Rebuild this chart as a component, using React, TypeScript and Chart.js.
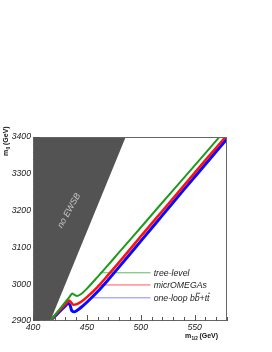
import React, { useEffect, useRef } from 'react';
import { Chart, registerables } from 'chart.js';

Chart.register(...registerables);

// axis ranges and ticks
const xMin = 400;
const xMax = 580;
const yMin = 2900;
const yMax = 3400;
const xTickValues = [400, 450, 500, 550];
const yTickValues = [2900, 3000, 3100, 3200, 3300, 3400];
const xMinorStep = 10;
const yMinorStep = 20;

// excluded region (no EWSB) boundary
const regionX = [400, 416, 486];
const regionY = [2900, 2900, 3400];
const regionLabel = 'no EWSB';
const regionLabelPos = [433.5, 3200];

// series
const seriesNames = ['tree-level', 'micrOMEGAs', 'one-loop'];
const treeX = [415.5, 420, 425, 430, 434, 436.5, 438.5, 441, 445, 450, 460, 470, 480, 500, 520, 540, 560, 575];
const treeY = [2900, 2915, 2933, 2951, 2966, 2975, 2971, 2968, 2974, 2988, 3020, 3053, 3087, 3154, 3222, 3289, 3356, 3407];
const microX = [415.5, 420, 425, 430, 433.5, 435.5, 437.5, 440, 445, 450, 460, 470, 480, 500, 520, 540, 560, 580];
const microY = [2900, 2914, 2930, 2945, 2956, 2950, 2944, 2945, 2953, 2965, 2993, 3026, 3060, 3130, 3199, 3268, 3337, 3405];
const loopX = [415.5, 420, 425, 430, 432.5, 434.5, 436, 438, 441, 445, 450, 460, 470, 480, 500, 520, 540, 560, 580];
const loopY = [2900, 2912, 2927, 2941, 2948, 2942, 2928, 2925, 2929, 2938, 2951, 2980, 3013, 3047, 3117, 3187, 3257, 3326, 3395];

// in-plot legend (data coordinates)
const legendY = [3031, 2998, 2963];
const legendStartX = [462, 460, 456];
const legendEndX = 509;
const legendTextX = 512;

const curveColors = ['#1f9a1f', '#ff1010', '#0a0aff'];
const legendColors = ['#5cb85c', '#ff5a5a', '#8a8aff'];
const curveWidths = [2, 2.5, 3];

const FONT = '"Liberation Sans", Arial, sans-serif';

const toPts = (xs: number[], ys: number[]) => xs.map((x, i) => ({ x, y: ys[i] }));

const overlayPlugin = {
  id: 'overlay',
  afterDraw(chart: any) {
    const { ctx, chartArea: ca, scales } = chart;
    const xs = scales.x;
    const ys = scales.y;
    ctx.save();

    // region label
    ctx.save();
    ctx.translate(xs.getPixelForValue(regionLabelPos[0]), ys.getPixelForValue(regionLabelPos[1]));
    ctx.rotate((-61 * Math.PI) / 180);
    ctx.font = `italic 8.8px ${FONT}`;
    ctx.fillStyle = '#c8c8c8';
    ctx.textAlign = 'center';
    ctx.textBaseline = 'middle';
    ctx.fillText(regionLabel, 0, 0);
    ctx.restore();

    // frame
    ctx.strokeStyle = '#666';
    ctx.lineWidth = 1;
    ctx.strokeRect(ca.left + 0.5, ca.top + 0.5, ca.right - ca.left - 1, ca.bottom - ca.top - 1);

    // ticks (inward)
    ctx.strokeStyle = '#555';
    ctx.beginPath();
    for (let v = yMin; v <= yMax; v += yMinorStep) {
      let py = Math.round(ys.getPixelForValue(v)) + 0.5;
      py = Math.min(py, ca.bottom - 0.5);
      const len = yTickValues.includes(v) ? 6 : 3;
      ctx.moveTo(ca.left, py);
      ctx.lineTo(ca.left + 1 + len, py);
    }
    for (let v = xMin; v <= xMax; v += xMinorStep) {
      let px = Math.round(xs.getPixelForValue(v)) + 0.5;
      px = Math.max(px, ca.left + 0.5);
      const len = xTickValues.includes(v) ? 5 : 3;
      ctx.moveTo(px, ca.bottom);
      ctx.lineTo(px, ca.bottom - 1 - len);
    }
    ctx.stroke();

    // legend texts
    ctx.fillStyle = '#222';
    ctx.font = `italic 8.7px ${FONT}`;
    ctx.textAlign = 'left';
    ctx.textBaseline = 'alphabetic';
    const tx = xs.getPixelForValue(legendTextX);
    for (let i = 0; i < 3; i++) {
      const base = ys.getPixelForValue(legendY[i]) + 3;
      if (i < 2) {
        ctx.fillText(seriesNames[i], tx, base);
      } else {
        const parts: [string, boolean][] = [
          [seriesNames[i] + ' b', false],
          ['b', true],
          ['+t', false],
          ['t', true],
        ];
        let cx = tx;
        ctx.lineWidth = 0.8;
        ctx.strokeStyle = '#222';
        for (const [s, bar] of parts) {
          const w = ctx.measureText(s).width;
          ctx.fillText(s, cx, base);
          if (bar) {
            ctx.beginPath();
            ctx.moveTo(cx + 1.2, base - 7.6);
            ctx.lineTo(cx + w + 0.6, base - 7.6);
            ctx.stroke();
          }
          cx += w;
        }
      }
    }

    // axis titles
    ctx.fillStyle = '#111';
    // x title
    {
      let cx = 185;
      const base = 338;
      ctx.font = `bold 7px ${FONT}`;
      ctx.fillText('m', cx, base);
      cx += ctx.measureText('m').width + 0.3;
      ctx.font = `bold 4.6px ${FONT}`;
      ctx.fillText('1/2', cx, base + 1.5);
      cx += ctx.measureText('1/2').width + 1.5;
      ctx.font = `bold 7px ${FONT}`;
      ctx.fillText('(GeV)', cx, base);
    }
    // y title
    {
      ctx.save();
      ctx.translate(8, 156);
      ctx.rotate(-Math.PI / 2);
      let cx = 0;
      ctx.font = `bold 7px ${FONT}`;
      ctx.fillText('m', cx, 0);
      cx += ctx.measureText('m').width + 0.3;
      ctx.font = `bold 4.8px ${FONT}`;
      ctx.fillText('0', cx, 1.5);
      cx += ctx.measureText('0').width + 1.8;
      ctx.font = `bold 7px ${FONT}`;
      ctx.fillText('(GeV)', cx, 0);
      ctx.restore();
    }

    ctx.restore();
  },
};

export default function App() {
  const ref = useRef<HTMLCanvasElement>(null);

  useEffect(() => {
    document.body.style.margin = '0';
    const canvas = ref.current;
    if (!canvas) return;

    const curves = [
      [treeX, treeY],
      [microX, microY],
      [loopX, loopY],
    ];

    const datasets: any[] = [];
    curves.forEach(([xs, ys], i) => {
      datasets.push({
        label: seriesNames[i],
        data: toPts(xs, ys),
        borderColor: curveColors[i],
        borderWidth: curveWidths[i],
        pointRadius: 0,
        fill: false,
        cubicInterpolationMode: 'monotone',
        order: 1,
      });
    });
    for (let i = 0; i < 3; i++) {
      datasets.push({
        label: seriesNames[i] + ' legend',
        data: [
          { x: legendStartX[i], y: legendY[i] },
          { x: legendEndX, y: legendY[i] },
        ],
        borderColor: legendColors[i],
        borderWidth: 1,
        pointRadius: 0,
        fill: false,
        order: 2,
      });
    }
    datasets.push({
      label: regionLabel,
      data: toPts(regionX, regionY),
      borderWidth: 0,
      borderColor: 'rgba(0,0,0,0)',
      backgroundColor: '#535353',
      pointRadius: 0,
      fill: 'end',
      order: 3,
    });

    const chart = new Chart(canvas, {
      type: 'line',
      data: { datasets },
      plugins: [overlayPlugin],
      options: {
        responsive: false,
        animation: false,
        events: [],
        layout: { padding: { left: 0, top: 137, right: 45, bottom: 19 } },
        plugins: {
          legend: { display: false },
          tooltip: { enabled: false },
        },
        scales: {
          x: {
            type: 'linear',
            min: xMin,
            max: xMax,
            grid: { display: false, drawTicks: false },
            border: { display: false },
            afterBuildTicks: (s: any) => {
              s.ticks = xTickValues.map((v) => ({ value: v }));
            },
            afterFit: (s: any) => {
              s.height = 12;
            },
            ticks: {
              padding: 1,
              maxRotation: 0,
              autoSkip: false,
              color: '#222',
              font: { family: FONT, style: 'italic', size: 8.7 },
              callback: (v: any) => String(v),
            },
          },
          y: {
            type: 'linear',
            min: yMin,
            max: yMax,
            grid: { display: false, drawTicks: false },
            border: { display: false },
            afterBuildTicks: (s: any) => {
              s.ticks = yTickValues.map((v) => ({ value: v }));
            },
            afterFit: (s: any) => {
              s.width = 33;
            },
            ticks: {
              padding: 2,
              autoSkip: false,
              color: '#222',
              font: { family: FONT, style: 'italic', size: 8.7 },
              callback: (v: any) => String(v),
            },
          },
        },
      },
    });

    return () => chart.destroy();
  }, []);

  return <canvas ref={ref} width={272} height={352} style={{ display: 'block' }} />;
}
